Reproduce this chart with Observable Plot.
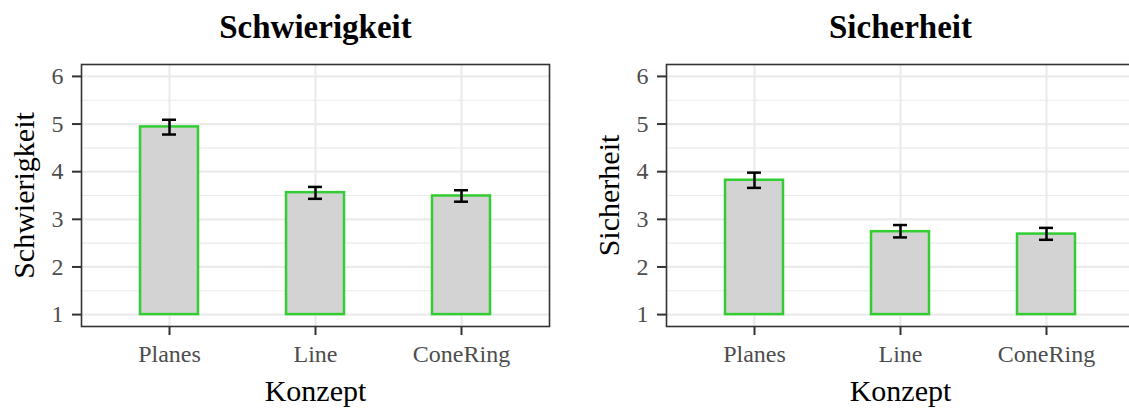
<!DOCTYPE html>
<html>
<head>
<meta charset="utf-8">
<script src="https://cdn.jsdelivr.net/npm/d3@7"></script>
<script src="https://cdn.jsdelivr.net/npm/@observablehq/plot@0.6"></script>
<style>
  html, body { margin: 0; padding: 0; background: #fff; }
  #wrap { position: relative; width: 1129px; height: 408px; overflow: hidden; background: #fff; }
  .panel { position: absolute; top: 0; }
</style>
</head>
<body>
<div id="wrap"></div>
<script>
const concepts = ["Planes", "Line", "ConeRing"];
const schwierigkeitMean = [4.94, 3.56, 3.49];
const schwierigkeitLow = [4.78, 3.43, 3.37];
const schwierigkeitHigh = [5.09, 3.68, 3.61];
const sicherheitMean = [3.82, 2.74, 2.69];
const sicherheitLow = [3.66, 2.62, 2.57];
const sicherheitHigh = [3.98, 2.88, 2.82];
const yTicks = [1, 2, 3, 4, 5, 6];
const yMinor = [1.5, 2.5, 3.5, 4.5, 5.5];
const xTitle = "Konzept";

function panel(title, means, lows, highs, opts) {
  const data = concepts.map((c, i) => ({concept: c, mean: means[i], low: lows[i], high: highs[i]}));
  return Plot.plot({
    width: opts.width,
    height: 408,
    marginLeft: opts.marginLeft,
    marginRight: opts.marginRight,
    marginTop: 64,
    marginBottom: 82,
    style: {fontFamily: "'Liberation Serif', serif", fontSize: "24px", color: "#4D4D4D", background: "#fff", overflow: "visible"},
    x: {type: "band", domain: concepts, paddingInner: 0.6, paddingOuter: 0.4, tickSize: 9, tickPadding: 9, label: null},
    y: {domain: [0.75, 6.25], ticks: yTicks, tickFormat: d => String(d), tickSize: 9, tickPadding: 9, label: null},
    marks: [
      Plot.ruleY(yMinor, {stroke: "#EBEBEB", strokeWidth: 1.2}),
      Plot.ruleY(yTicks, {stroke: "#EBEBEB", strokeWidth: 2.2}),
      Plot.ruleX(concepts, {x: d => d, stroke: "#EBEBEB", strokeWidth: 2.2}),
      Plot.barY(data, {x: "concept", y1: 1, y2: "mean", fill: "#D3D3D3", stroke: "#32CD32", strokeWidth: 2.5}),
      Plot.ruleX(data, {x: "concept", y1: "low", y2: "high", stroke: "#000", strokeWidth: 2.5}),
      Plot.tickY(data, {x: "concept", y: "low", stroke: "#000", strokeWidth: 2.5, insetLeft: 22, insetRight: 22}),
      Plot.tickY(data, {x: "concept", y: "high", stroke: "#000", strokeWidth: 2.5, insetLeft: 22, insetRight: 22}),
      Plot.frame({stroke: "#333333", strokeWidth: 1.6}),
      Plot.text([title], {frameAnchor: "top", text: d => d, lineAnchor: "bottom", dy: -27, fontSize: 33, fontWeight: "bold", fill: "#000"}),
      Plot.text([xTitle], {frameAnchor: "bottom", text: d => d, lineAnchor: "bottom", dy: 74, fontSize: 30, fill: "#000"}),
      Plot.text([title], {frameAnchor: "left", text: d => d, textAnchor: "middle", lineAnchor: "bottom", rotate: -90, dx: -48, fontSize: 30, fill: "#000"})
    ]
  });
}

const wrap = document.getElementById("wrap");
const p1 = panel("Schwierigkeit", schwierigkeitMean, schwierigkeitLow, schwierigkeitHigh, {width: 560, marginLeft: 81, marginRight: 11});
p1.classList.add("panel");
p1.style.left = "0px";
wrap.appendChild(p1);
const p2 = panel("Sicherheit", sicherheitMean, sicherheitLow, sicherheitHigh, {width: 584, marginLeft: 106, marginRight: 10});
p2.classList.add("panel");
p2.style.left = "560px";
wrap.appendChild(p2);
// darker, thicker axis tick lines like the reference (axis ticks only)
d3.selectAll('g[aria-label="x-axis tick"], g[aria-label="y-axis tick"]')
  .attr("stroke", "#333333").attr("stroke-width", 2)
  .selectAll("path, line").attr("stroke", "#333333").attr("stroke-width", 2);
d3.selectAll('g[aria-label="x-axis"] .tick line, g[aria-label="y-axis"] .tick line')
  .attr("stroke", "#333333").attr("stroke-width", 2);
</script>
</body>
</html>
